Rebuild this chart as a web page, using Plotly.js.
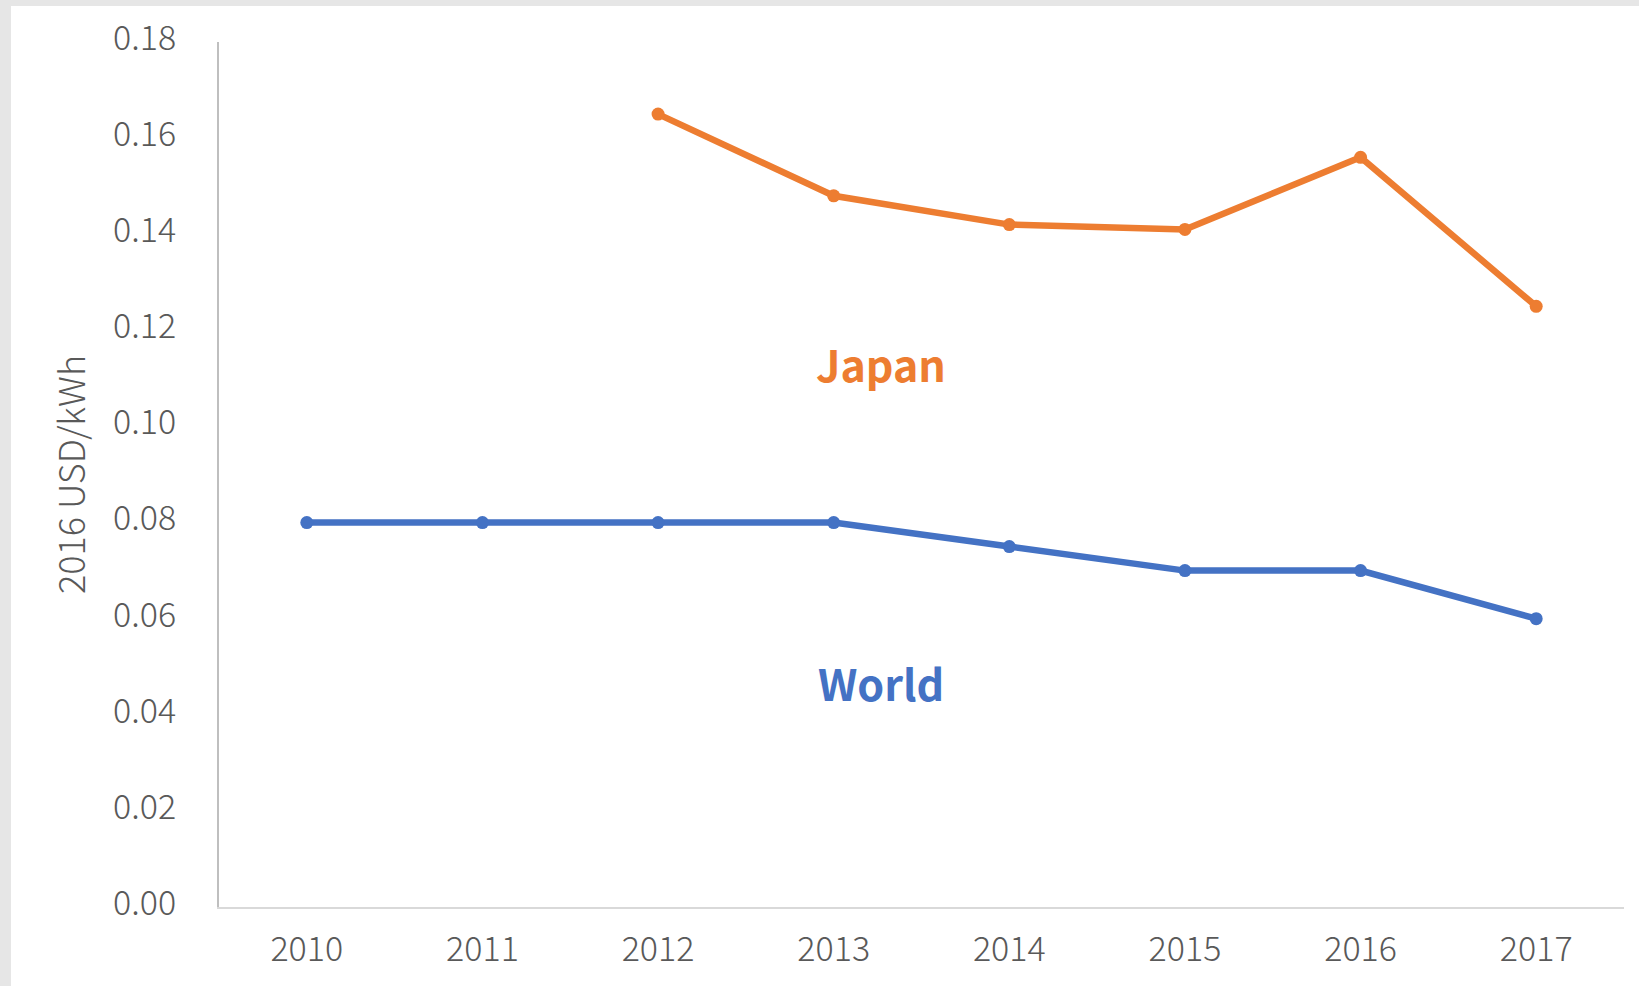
<!DOCTYPE html>
<html>
<head>
<meta charset="utf-8">
<script src="https://cdn.plot.ly/plotly-3.0.1.min.js"></script>
<style>
  html, body { margin: 0; padding: 0; background: #e6e6e6; width: 1639px; height: 986px; overflow: hidden; }
  #chart { position: absolute; left: 11px; top: 6px; width: 1628px; height: 980px; background: #ffffff; }
</style>
</head>
<body>
<div id="chart"></div>
<script>
const years = ['2010', '2011', '2012', '2013', '2014', '2015', '2016', '2017'];
const worldValues = [0.080, 0.080, 0.080, 0.080, 0.075, 0.070, 0.070, 0.060];
const japanValues = [null, null, 0.165, 0.148, 0.142, 0.141, 0.156, 0.125];
const yTicks = [0, 0.02, 0.04, 0.06, 0.08, 0.10, 0.12, 0.14, 0.16, 0.18];
const yTickLabels = ['0.00', '0.02', '0.04', '0.06', '0.08', '0.10', '0.12', '0.14', '0.16', '0.18'];
const seriesNames = ['World', 'Japan'];
const seriesColors = ['#4472C4', '#ED7D31'];

const FONT = '"Noto Sans CJK JP", "Noto Sans", sans-serif';

const traces = [
  {
    x: years, y: worldValues, name: seriesNames[0], type: 'scatter', mode: 'lines+markers',
    line: { color: seriesColors[0], width: 6.5 },
    marker: { color: seriesColors[0], size: 13 },
    connectgaps: false, hoverinfo: 'x+y'
  },
  {
    x: years, y: japanValues, name: seriesNames[1], type: 'scatter', mode: 'lines+markers',
    line: { color: seriesColors[1], width: 6.5 },
    marker: { color: seriesColors[1], size: 13 },
    connectgaps: false, hoverinfo: 'x+y'
  }
];

const layout = {
  width: 1628, height: 980,
  paper_bgcolor: '#ffffff', plot_bgcolor: '#ffffff',
  margin: { l: 208, r: 15, t: 36, b: 79 },
  showlegend: false,
  font: { family: FONT, color: '#595959', weight: 300 },
  xaxis: {
    type: 'category',
    range: [-0.5, 7.5],
    showgrid: false, zeroline: false,
    showline: true, linecolor: '#d9d9d9', linewidth: 2,
    ticks: '', ticklabelstandoff: 11,
    tickfont: { family: FONT, size: 34, color: '#595959', weight: 300 },
    fixedrange: true
  },
  yaxis: {
    range: [0, 0.18],
    tickvals: yTicks, ticktext: yTickLabels,
    showgrid: false, zeroline: false,
    showline: true, linecolor: '#bfbfbf', linewidth: 2,
    ticks: '', ticklabelstandoff: 34, ticklabelshift: -4,
    tickfont: { family: FONT, size: 34, color: '#595959', weight: 300 },
    title: { text: '2016 USD/kWh', font: { family: FONT, size: 36, color: '#595959', weight: 300 }, standoff: 17 },
    fixedrange: true
  },
  annotations: [
    { xref: 'paper', yref: 'paper', x: 0.4715, y: 0.629, text: '<b>Japan</b>', showarrow: false,
      xanchor: 'center', yanchor: 'middle', font: { family: FONT, size: 43, color: seriesColors[1] } },
    { xref: 'paper', yref: 'paper', x: 0.4715, y: 0.260, text: '<b>World</b>', showarrow: false,
      xanchor: 'center', yanchor: 'middle', font: { family: FONT, size: 43, color: seriesColors[0] } }
  ]
};

Plotly.newPlot('chart', traces, layout, { displayModeBar: false, staticPlot: true });
</script>
</body>
</html>
